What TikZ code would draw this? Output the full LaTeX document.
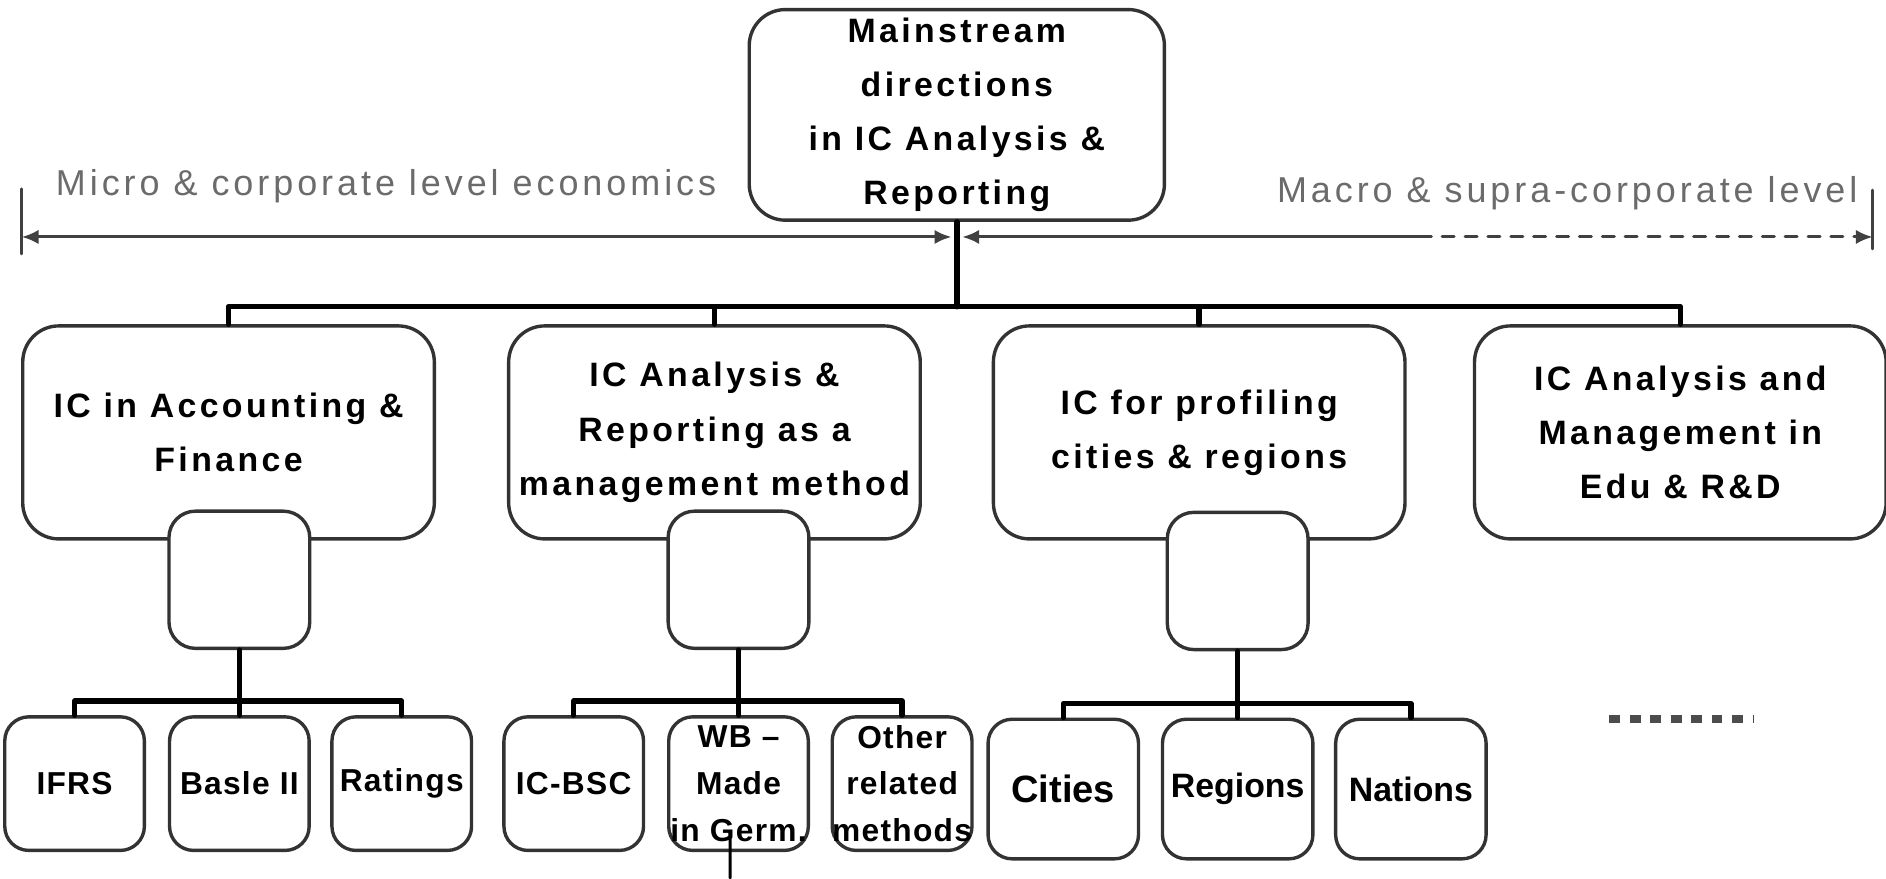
\documentclass[tikz,border=0pt]{standalone}
\usepackage{fontspec}
\setmainfont{Liberation Sans}
\newfontfamily\boxfont[LetterSpace=10]{Liberation Sans}
\newfontfamily\leaffont[LetterSpace=4]{Liberation Sans}
\newfontfamily\lblfont[LetterSpace=11]{Liberation Sans}
\usetikzlibrary{arrows.meta}

\begin{document}
\begin{tikzpicture}[x = 0.01cm, y = -0.01cm, line join = round, line cap = round,
		box/.style = {draw = black!80, line width = 0.8pt, fill = white, align = center, inner sep = 0pt,
			font = \boxfont\bfseries\fontsize{8}{12.8}\selectfont},
		mainbox/.style = {box, rounded corners = 0.3cm, minimum width = 3.45cm, minimum height = 1.75cm},
		dirbox/.style = {box, rounded corners = 0.3cm, minimum width = 3.42cm, minimum height = 1.77cm},
		subbox/.style = {box, rounded corners = 0.22cm, minimum width = 1.17cm, minimum height = 1.14cm},
		leafbox/.style = {box, rounded corners = 0.2cm, minimum width = 1.16cm, minimum height = 1.11cm,
			font = \leaffont\bfseries\fontsize{7.5}{11.1}\selectfont},
		placebox/.style = {leafbox, minimum width = 1.25cm, minimum height = 1.16cm,
			font = \bfseries\fontsize{8}{10}\selectfont},
		busline/.style = {line width = 1.3pt},
		scaleline/.style = {line width = 0.7pt, draw = black!75},
		scalelabel/.style = {font = \lblfont\fontsize{8.5}{10}\selectfont, text = black!58, inner sep = 0pt},
		tip/.tip = {Latex[length = 4pt, width = 3.4pt]}]
	\useasboundingbox (0,0) rectangle (1568,730);
	% top
	\node[mainbox] (main) at (795.5,95.5) {Mainstream\\directions\\in IC Analysis \&\\Reporting};
	% scale of levels
	\coordinate (ltick) at (18,197);
	\coordinate (lmid) at (791,197);
	\coordinate (rmid) at (800,197);
	\coordinate (dashstart) at (1180,197);
	\coordinate (rtick) at (1557,197);
	\draw[scaleline] ([yshift = 0.4cm]ltick) -- ([yshift = -0.14cm]ltick);
	\draw[scaleline] ([yshift = 0.39cm]rtick) -- ([yshift = -0.1cm]rtick);
	\draw[scaleline, tip-tip] (ltick) -- (lmid);
	\draw[scaleline, tip-] (rmid) -- (dashstart);
	\draw[scaleline, dash pattern = on 0.1cm off 0.09cm, -tip] (dashstart) -- (rtick);
	\node[scalelabel] (micro) at (321,155) {Micro \& corporate level economics};
	\node[scalelabel] (macro) at (1303,161) {Macro \& supra-corporate level};
	% directions
	\node[dirbox] (acc) at (190,359.5) {IC in Accounting \&\\Finance};
	\node[dirbox] (meth) at (594,359.5) {IC Analysis \&\\Reporting as a\\management method};
	\node[dirbox] (city) at (997,359.5) {IC for profiling\\cities \& regions};
	\node[dirbox] (edu) at (1397,359.5) {IC Analysis and\\Management in\\Edu \& R\&D};
	\coordinate (hub) at (795.5,255);
	\draw[busline] (main) -- (hub);
	\draw[busline] (acc.north) |- (hub) -| (edu.north);
	\draw[busline] (meth.north) -- (meth.north |- hub);
	\draw[busline] (city.north) -- (city.north |- hub);
	% sub boxes
	\node[subbox] (accsub) at (199,482) {};
	\node[subbox] (methsub) at (614,482) {};
	\node[subbox] (citysub) at (1029,483) {};
	% leaves
	\node[leafbox] (ifrs) at (62,651.5) {IFRS};
	\node[leafbox] (basle) at (199,651.5) {Basle II};
	\node[leafbox] (rat) at (334,651.5) {Ratings};
	\node[leafbox] (bsc) at (477,651.5) {IC-BSC};
	\node[leafbox] (wb) at (614,651.5) {WB –\\Made\\in Germ.};
	\node[leafbox] (oth) at (750,651.5) {Other\\related\\methods};
	\node[placebox, font = \bfseries\fontsize{9}{10}\selectfont] (cit) at (884,656) {Cities};
	\node[placebox] (reg) at (1029,656) {Regions};
	\node[placebox] (nat) at (1173,656) {Nations};
	\coordinate (acchub) at (199,583);
	\coordinate (methhub) at (614,583);
	\coordinate (cityhub) at (1029,585);
	\draw[busline] (accsub) -- (acchub);
	\draw[busline] (ifrs.north) |- (acchub) -| (rat.north);
	\draw[busline] (basle) -- (acchub);
	\draw[busline] (methsub) -- (methhub);
	\draw[busline] (bsc.north) |- (methhub) -| (oth.north);
	\draw[busline] (wb) -- (methhub);
	\draw[busline] (citysub) -- (cityhub);
	\draw[busline] (cit.north) |- (cityhub) -| (nat.north);
	\draw[busline] (reg) -- (cityhub);
	% more
	\draw[line width = 1.8pt, black!70, line cap = butt, dash pattern = on 0.09cm off 0.08cm] (1338,598) -- (1458,598);
	\coordinate (wbtail) at (607,730);
	\draw[line width = 0.7pt] ([xshift = -0.07cm, yshift = 0.13cm]wb.south) -- (wbtail);
\end{tikzpicture}
\end{document}
